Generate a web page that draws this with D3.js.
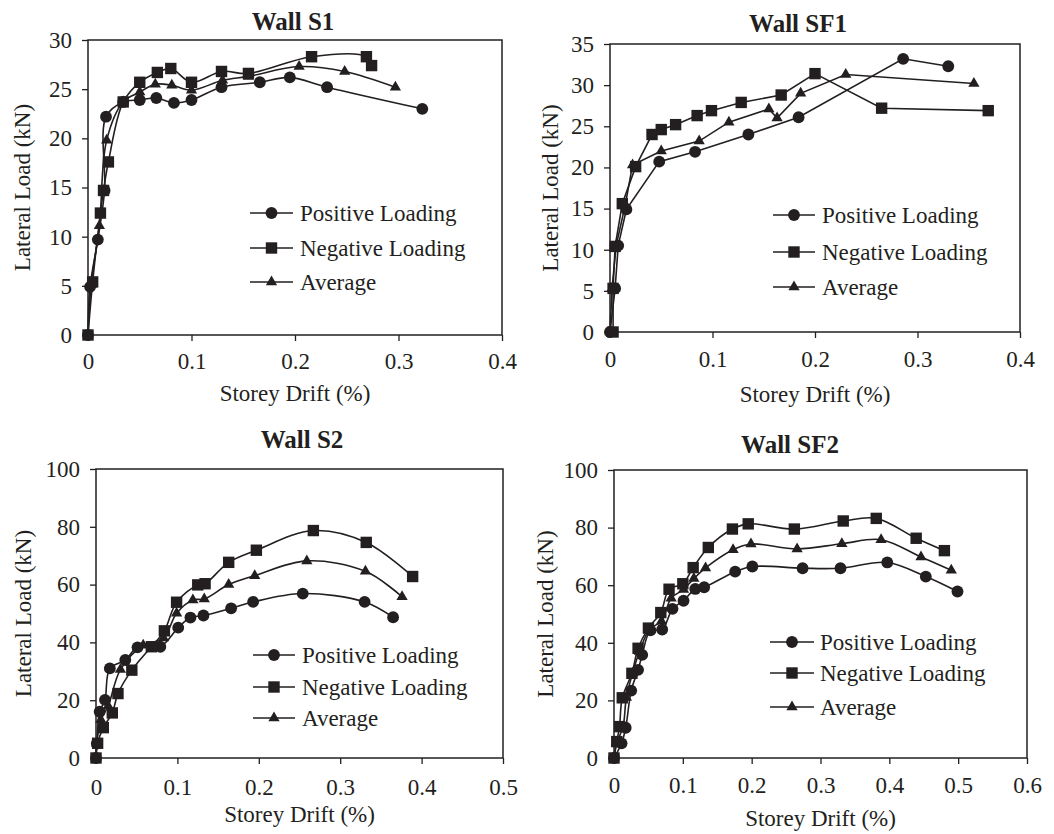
<!DOCTYPE html>
<html>
<head>
<meta charset="utf-8">
<script src="https://cdn.jsdelivr.net/npm/d3@7"></script>
<style>
  body { margin: 0; background: #fff; }
  svg { display: block; }
  svg text { font-family: "Liberation Serif", "Times New Roman", Times, "DejaVu Serif", serif; }
</style>
</head>
<body>
<div id="chart"></div>
<script>
// Storey drift (%) vs lateral load (kN)
const seriesNames = ["Positive Loading", "Negative Loading", "Average"];

const s1Pos = [[0,0],[0.002,4.9],[0.0095,9.7],[0.016,14.7],[0.0174,22.2],[0.034,23.7],[0.050,23.9],[0.066,24.1],[0.083,23.6],[0.100,23.9],[0.129,25.2],[0.166,25.7],[0.195,26.2],[0.231,25.2],[0.323,23.0]];
const s1Neg = [[0,0],[0.0045,5.4],[0.012,12.4],[0.015,14.7],[0.0197,17.6],[0.034,23.7],[0.050,25.7],[0.067,26.7],[0.080,27.1],[0.100,25.7],[0.129,26.8],[0.155,26.6],[0.216,28.3],[0.269,28.3],[0.274,27.4]];
const s1Avg = [[0,0],[0.003,5.1],[0.011,11.1],[0.018,19.8],[0.034,23.7],[0.050,24.7],[0.065,25.5],[0.081,25.4],[0.100,24.9],[0.130,25.9],[0.155,26.3],[0.204,27.3],[0.248,26.8],[0.297,25.2]];

const sf1Pos = [[0,0],[0.005,5.3],[0.008,10.5],[0.016,14.9],[0.048,20.7],[0.083,21.9],[0.135,24.0],[0.184,26.1],[0.286,33.2],[0.330,32.3]];
const sf1Neg = [[0.003,0],[0.003,5.3],[0.005,10.4],[0.012,15.6],[0.025,20.1],[0.041,24.0],[0.050,24.6],[0.064,25.2],[0.085,26.3],[0.099,26.9],[0.128,27.9],[0.167,28.8],[0.200,31.4],[0.265,27.2],[0.369,26.9]];
const sf1Avg = [[0,0],[0.002,5.3],[0.006,10.5],[0.015,15.5],[0.022,20.3],[0.050,22.0],[0.087,23.2],[0.116,25.5],[0.155,27.1],[0.163,26.0],[0.186,29.0],[0.230,31.3],[0.355,30.2]];

const s2Pos = [[0,0],[0.001,5],[0.0045,16.0],[0.011,20.1],[0.017,31.0],[0.036,33.9],[0.051,38.3],[0.079,38.5],[0.101,45.1],[0.116,48.6],[0.132,49.3],[0.166,51.8],[0.193,54.0],[0.254,56.9],[0.330,54.0],[0.365,48.7]];
const s2Neg = [[0,0],[0.002,5.1],[0.009,10.5],[0.020,15.6],[0.027,22.3],[0.044,30.4],[0.068,38.5],[0.084,44.0],[0.099,53.9],[0.125,59.9],[0.134,60.3],[0.163,67.7],[0.197,71.9],[0.267,78.7],[0.332,74.6],[0.389,62.8]];
const s2Avg = [[0,0],[0.001,5],[0.006,13.2],[0.015,18.0],[0.030,30.6],[0.058,39.0],[0.083,41.5],[0.099,50.1],[0.119,54.7],[0.133,55.0],[0.163,60.0],[0.195,63.1],[0.259,68.2],[0.331,64.6],[0.376,55.8]];

const sf2Pos = [[0,0],[0.011,5.1],[0.017,10.5],[0.025,23.4],[0.035,30.6],[0.041,35.8],[0.053,44.3],[0.070,44.6],[0.085,51.8],[0.101,54.6],[0.118,58.7],[0.131,59.3],[0.176,64.7],[0.201,66.5],[0.274,65.9],[0.329,65.9],[0.397,67.9],[0.453,63.0],[0.499,57.8]];
const sf2Neg = [[0,0],[0.004,5.7],[0.008,10.9],[0.012,20.9],[0.026,29.4],[0.035,38.1],[0.050,45.1],[0.068,50.5],[0.080,58.6],[0.100,60.5],[0.115,66.1],[0.137,73.1],[0.172,79.5],[0.195,81.3],[0.262,79.5],[0.333,82.3],[0.381,83.2],[0.439,76.3],[0.480,72.0]];
const sf2Avg = [[0,0],[0.004,5.3],[0.013,10.7],[0.018,21.0],[0.027,29.4],[0.037,37.0],[0.052,44.8],[0.069,47.5],[0.083,55.5],[0.101,58.5],[0.116,62.3],[0.133,66.0],[0.173,72.3],[0.199,74.3],[0.266,72.6],[0.331,74.4],[0.388,75.8],[0.446,69.8],[0.490,65.2]];

const xTicksA = [0, 0.1, 0.2, 0.3, 0.4];
const xTicksB = [0, 0.1, 0.2, 0.3, 0.4, 0.5];
const xTicksC = [0, 0.1, 0.2, 0.3, 0.4, 0.5, 0.6];
const yTicksS1 = [0, 5, 10, 15, 20, 25, 30];
const yTicksSF1 = [0, 5, 10, 15, 20, 25, 30, 35];
const yTicksBig = [0, 20, 40, 60, 80, 100];

const W = 1054, H = 834;
const ink = "#231f20";

const panels = [
  { title: "Wall S1", data: [s1Pos, s1Neg, s1Avg], xTicks: xTicksA, yTicks: yTicksS1, smooth: true,
    box: { l: 88, r: 502, t: 40, b: 335 }, titlePos: [293, 30], yLabX: 22, xLabY: 401, xPad: 12,
    legend: { x0: 250, x1: 293, tx: 300, rows: [213, 248, 282] } },
  { title: "Wall SF1", data: [sf1Pos, sf1Neg, sf1Avg], xTicks: xTicksA, yTicks: yTicksSF1, smooth: false,
    box: { l: 610, r: 1020, t: 44, b: 332 }, titlePos: [798, 32], yLabX: 550, xLabY: 402, xPad: 13,
    legend: { x0: 773, x1: 815, tx: 822, rows: [215, 252, 287] } },
  { title: "Wall S2", data: [s2Pos, s2Neg, s2Avg], xTicks: xTicksB, yTicks: yTicksBig, smooth: true,
    box: { l: 96, r: 503, t: 469, b: 758 }, titlePos: [302, 448], yLabX: 23, xLabY: 822, xPad: 15,
    legend: { x0: 253, x1: 295, tx: 302, rows: [655, 687, 718] } },
  { title: "Wall SF2", data: [sf2Pos, sf2Neg, sf2Avg], xTicks: xTicksC, yTicks: yTicksBig, smooth: true,
    box: { l: 614, r: 1027, t: 470, b: 758 }, titlePos: [790, 453], yLabX: 545, xLabY: 826, xPad: 13,
    legend: { x0: 770, x1: 814, tx: 820, rows: [642, 673, 707] } }
];

const markers = [
  d3.symbol().type(d3.symbolCircle).size(110),
  d3.symbol().type(d3.symbolSquare).size(130),
  d3.symbol().type(d3.symbolTriangle).size(55)
];

const svg = d3.select("#chart").append("svg")
  .attr("width", W)
  .attr("height", H);

const fmt = d => d === 0 ? "0" : String(+d.toFixed(1));

panels.forEach(p => {
  const g = svg.append("g");
  const x = d3.scaleLinear()
    .domain([0, d3.max(p.xTicks)])
    .range([p.box.l, p.box.r]);
  const y = d3.scaleLinear()
    .domain([0, d3.max(p.yTicks)])
    .range([p.box.b, p.box.t]);

  // axes
  const xAxis = g.append("g")
    .attr("transform", `translate(0,${p.box.b})`)
    .call(d3.axisBottom(x).tickValues(p.xTicks).tickFormat(fmt).tickSize(6).tickSizeOuter(0).tickPadding(p.xPad));
  const yAxis = g.append("g")
    .attr("transform", `translate(${p.box.l},0)`)
    .call(d3.axisLeft(y).tickValues(p.yTicks).tickFormat(fmt).tickSize(6).tickSizeOuter(0).tickPadding(10));
  [xAxis, yAxis].forEach(a => {
    a.attr("font-family", null).attr("font-size", null);
    a.select(".domain").remove();
    a.selectAll("line").attr("stroke", ink).attr("stroke-width", 1.3);
    a.selectAll("text").attr("fill", ink).style("font-size", "23px");
  });

  // plot frame
  g.append("rect")
    .attr("x", p.box.l)
    .attr("y", p.box.t)
    .attr("width", p.box.r - p.box.l)
    .attr("height", p.box.b - p.box.t)
    .attr("fill", "none")
    .attr("stroke", ink)
    .attr("stroke-width", 1.5);

  // title and axis titles
  g.append("text")
    .attr("x", p.titlePos[0])
    .attr("y", p.titlePos[1])
    .attr("text-anchor", "middle")
    .attr("fill", ink)
    .style("font-size", "25px")
    .style("font-weight", "bold")
    .text(p.title);

  g.append("text")
    .attr("x", (p.box.l + p.box.r) / 2)
    .attr("y", p.xLabY)
    .attr("text-anchor", "middle")
    .attr("fill", ink)
    .style("font-size", "23px")
    .text("Storey Drift (%)");

  g.append("text")
    .attr("transform", `translate(${p.yLabX},${(p.box.t + p.box.b) / 2}) rotate(-90)`)
    .attr("text-anchor", "middle")
    .attr("dy", "0.35em")
    .attr("fill", ink)
    .style("font-size", "23px")
    .text("Lateral Load (kN)");

  // series
  const line = d3.line()
    .x(d => x(d[0]))
    .y(d => y(d[1]))
    .curve(p.smooth ? d3.curveCatmullRom.alpha(0.5) : d3.curveLinear);

  p.data.forEach(s => {
    g.append("path")
      .datum(s)
      .attr("d", line)
      .attr("fill", "none")
      .attr("stroke", ink)
      .attr("stroke-width", 1.6);
  });
  p.data.forEach((s, i) => {
    g.selectAll(null)
      .data(s)
      .join("path")
      .attr("transform", d => `translate(${x(d[0])},${y(d[1])})`)
      .attr("d", markers[i])
      .attr("fill", ink);
  });

  // legend
  seriesNames.forEach((name, i) => {
    const ry = p.legend.rows[i];
    g.append("line")
      .attr("x1", p.legend.x0).attr("x2", p.legend.x1)
      .attr("y1", ry).attr("y2", ry)
      .attr("stroke", ink)
      .attr("stroke-width", 1.6);
    g.append("path")
      .attr("transform", `translate(${(p.legend.x0 + p.legend.x1) / 2},${ry})`)
      .attr("d", markers[i])
      .attr("fill", ink);
    g.append("text")
      .attr("x", p.legend.tx)
      .attr("y", ry)
      .attr("dy", "0.33em")
      .attr("fill", ink)
      .style("font-size", "23px")
      .text(name);
  });
});
</script>
</body>
</html>
